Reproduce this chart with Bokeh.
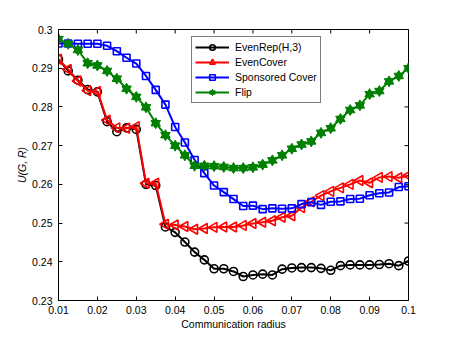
from bokeh.plotting import figure
from bokeh.models import Legend, LegendItem, FixedTicker, Range1d
from bokeh.embed import file_html
from bokeh.resources import INLINE

radius = [0.0100, 0.0125, 0.0150, 0.0175, 0.0200, 0.0225, 0.0250, 0.0275, 0.0300,
          0.0325, 0.0350, 0.0375, 0.0400, 0.0425, 0.0450, 0.0475, 0.0500, 0.0525,
          0.0550, 0.0575, 0.0600, 0.0625, 0.0650, 0.0675, 0.0700, 0.0725, 0.0750,
          0.0775, 0.0800, 0.0825, 0.0850, 0.0875, 0.0900, 0.0925, 0.0950, 0.0975,
          0.1000]

even_rep = [0.2923, 0.2893, 0.2869, 0.2845, 0.2839, 0.2762, 0.2736, 0.2746, 0.2742,
            0.2600, 0.2597, 0.2490, 0.2476, 0.2451, 0.2425, 0.2405, 0.2382, 0.2382,
            0.2375, 0.2362, 0.2366, 0.2368, 0.2366, 0.2381, 0.2384, 0.2385, 0.2385,
            0.2383, 0.2378, 0.2390, 0.2392, 0.2392, 0.2392, 0.2393, 0.2395, 0.2390,
            0.2402]

even_cover = [0.2923, 0.2897, 0.2867, 0.2842, 0.2840, 0.2766, 0.2746, 0.2745, 0.2749,
              0.2603, 0.2603, 0.2497, 0.2495, 0.2491, 0.2484, 0.2486, 0.2489, 0.2490,
              0.2490, 0.2494, 0.2499, 0.2502, 0.2506, 0.2515, 0.2519, 0.2540, 0.2555,
              0.2571, 0.2582, 0.2591, 0.2600, 0.2610, 0.2604, 0.2618, 0.2620, 0.2617,
              0.2623]

sponsored = [0.2964, 0.2964, 0.2963, 0.2963, 0.2963, 0.2958, 0.2944, 0.2927, 0.2912,
             0.2880, 0.2844, 0.2806, 0.2748, 0.2708, 0.2663, 0.2629, 0.2597, 0.2580,
             0.2562, 0.2544, 0.2545, 0.2536, 0.2538, 0.2537, 0.2538, 0.2549, 0.2554,
             0.2547, 0.2555, 0.2556, 0.2562, 0.2563, 0.2572, 0.2577, 0.2579, 0.2593,
             0.2595]

flip = [0.2975, 0.2963, 0.2947, 0.2913, 0.2907, 0.2893, 0.2873, 0.2847, 0.2826,
        0.2799, 0.2758, 0.2727, 0.2700, 0.2675, 0.2648, 0.2648, 0.2647, 0.2645,
        0.2642, 0.2642, 0.2644, 0.2651, 0.2662, 0.2675, 0.2692, 0.2703, 0.2711,
        0.2733, 0.2745, 0.2769, 0.2792, 0.2804, 0.2833, 0.2841, 0.2866, 0.2880,
        0.2900]

x_ticks = [0.01, 0.02, 0.03, 0.04, 0.05, 0.06, 0.07, 0.08, 0.09, 0.1]
x_tick_labels = ["0.01", "0.02", "0.03", "0.04", "0.05", "0.06", "0.07", "0.08", "0.09", "0.1"]
y_ticks = [0.23, 0.24, 0.25, 0.26, 0.27, 0.28, 0.29, 0.3]
y_tick_labels = ["0.23", "0.24", "0.25", "0.26", "0.27", "0.28", "0.29", "0.3"]

legend_labels = ["EvenRep(H,3)", "EvenCover", "Sponsored Cover", "Flip"]

X_MIN, X_MAX = 0.01, 0.1
Y_MIN, Y_MAX = 0.23, 0.3

FONT = "Liberation Sans"
FS = "10.5px"

p = figure(frame_width=350, frame_height=271,
           min_border_left=58, min_border_top=29, min_border_right=34, min_border_bottom=10,
           x_range=Range1d(X_MIN, X_MAX), y_range=Range1d(Y_MIN, Y_MAX),
           output_backend="svg", toolbar_location=None)
p.background_fill_color = "white"
p.border_fill_color = "white"
p.outline_line_color = "black"
p.outline_line_width = 1
p.grid.visible = False

def style_axis(ax, ticks, labels):
    ax.ticker = FixedTicker(ticks=ticks)
    ax.major_label_overrides = {t: l for t, l in zip(ticks, labels)}
    ax.major_tick_in = 4
    ax.major_tick_out = 0
    ax.minor_tick_in = 0
    ax.minor_tick_out = 0
    ax.axis_line_color = "black"
    ax.major_tick_line_color = "black"
    ax.major_label_text_font = FONT
    ax.major_label_text_color = "black"
    ax.major_label_text_font_size = FS
    ax.axis_label_text_font = FONT
    ax.axis_label_text_color = "black"
    ax.axis_label_text_font_size = FS

xb = p.xaxis[0]
yl = p.yaxis[0]
style_axis(xb, x_ticks, x_tick_labels)
style_axis(yl, y_ticks, y_tick_labels)
xb.axis_label = "Communication radius"
xb.axis_label_text_font_style = "normal"
xb.major_label_standoff = 5
xb.axis_label_standoff = 1
yl.axis_label = "U(G, R)"
yl.axis_label_text_font_style = "italic"
yl.major_label_standoff = 6
yl.axis_label_standoff = 1

# inward ticks on the top and right edges of the box (half of each dash is clipped by the frame)
p.scatter(x_ticks, [Y_MAX] * len(x_ticks), marker="dash", angle=1.5708, size=8,
          line_color="black", line_width=1)
p.scatter([X_MAX] * len(y_ticks), y_ticks, marker="dash", size=8,
          line_color="black", line_width=1)

LW = 2

l1 = p.line(radius, even_rep, line_color="black", line_width=LW)
s1 = p.scatter(radius, even_rep, marker="circle", size=8, line_color="black",
               fill_color=None, line_width=1.6)
l2 = p.line(radius, even_cover, line_color="#ff0000", line_width=LW)
s2 = p.scatter(radius, even_cover, marker="triangle", angle=1.5708, size=10,
               line_color="#ff0000", fill_color=None, line_width=1.6)
l3 = p.line(radius, sponsored, line_color="#0000ff", line_width=LW)
s3 = p.scatter(radius, sponsored, marker="square", size=7, line_color="#0000ff",
               fill_color=None, line_width=1.6)
l4 = p.line(radius, flip, line_color="#008000", line_width=LW)
s4a = p.scatter(radius, flip, marker="triangle", size=9.5, line_color="#008000",
                fill_color="#008000", line_width=1)
s4b = p.scatter(radius, flip, marker="inverted_triangle", size=9.5, line_color="#008000",
                fill_color="#008000", line_width=1)

legend = Legend(items=[
    LegendItem(label=legend_labels[0], renderers=[l1, s1]),
    LegendItem(label=legend_labels[1], renderers=[l2, s2]),
    LegendItem(label=legend_labels[2], renderers=[l3, s3]),
    LegendItem(label=legend_labels[3], renderers=[l4, s4a, s4b]),
], location=(133, 197))
legend.margin = 0
legend.padding = 3
legend.spacing = 1
legend.glyph_width = 34
legend.glyph_height = 14
legend.label_height = 14
legend.label_standoff = 6
legend.label_text_font = FONT
legend.label_text_font_size = FS
legend.label_text_color = "black"
legend.border_line_color = "black"
legend.border_line_width = 1
legend.background_fill_color = "white"
legend.background_fill_alpha = 1
p.add_layout(legend, "center")

open("out.html", "w").write(file_html(p, INLINE))
